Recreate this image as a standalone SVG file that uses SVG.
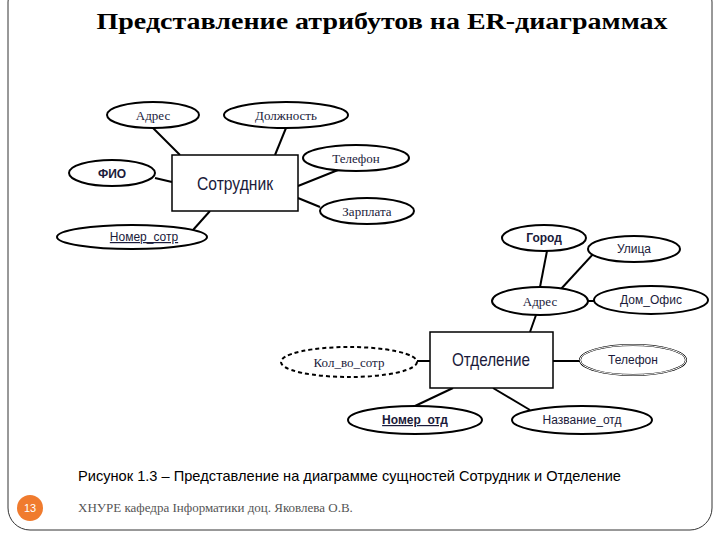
<svg xmlns="http://www.w3.org/2000/svg" width="720" height="540" viewBox="0 0 720 540">
<style>
.e{fill:#fff;stroke:#000;stroke-width:2}
.s{font-family:"Liberation Serif",serif;font-size:13px;fill:#1a1a3a;text-anchor:middle}
.n{font-family:"Liberation Sans",sans-serif;font-size:12px;fill:#1a1a3a;text-anchor:middle}
.c line{stroke:#000;stroke-width:2}
</style>
<rect x="0" y="0" width="720" height="540" fill="#fff"/>
<rect x="8" y="-20" width="704" height="550" rx="22" fill="none" stroke="#333" stroke-width="1"/>
<text x="382" y="29" font-family="Liberation Serif,serif" font-size="24" font-weight="bold" text-anchor="middle" fill="#000" textLength="571" lengthAdjust="spacingAndGlyphs">Представление атрибутов на ER-диаграммах</text>
<g class="c" id="connectors">
<line x1="153" y1="128" x2="180" y2="155"/><line x1="286" y1="128" x2="275" y2="155"/>
<line x1="155" y1="178" x2="172" y2="182"/><line x1="338" y1="170" x2="298" y2="186"/>
<line x1="320" y1="207" x2="298" y2="198"/><line x1="193" y1="230" x2="210" y2="211"/>
<line x1="547" y1="251" x2="540" y2="287"/><line x1="595" y1="252" x2="561" y2="289"/>
<line x1="588" y1="301" x2="594" y2="301"/><line x1="536" y1="315" x2="530" y2="332"/>
<line x1="417" y1="361" x2="430" y2="361"/><line x1="553" y1="361" x2="580" y2="361"/>
<line x1="453" y1="388" x2="415" y2="406"/><line x1="493" y1="388" x2="530" y2="410"/>
</g>
<g id="emp"><rect x="172" y="155" width="126" height="56" fill="#fff" stroke="#000" stroke-width="1.5"/><text x="235" y="190" font-family="Liberation Sans,sans-serif" font-size="19" text-anchor="middle" fill="#1a1a3a" textLength="76" lengthAdjust="spacingAndGlyphs">Сотрудник</text></g>
<g id="a1"><ellipse class="e" cx="153" cy="115" rx="46" ry="13"/><text class="s" x="153" y="120">Адрес</text></g>
<g id="a2"><ellipse class="e" cx="286" cy="115" rx="62" ry="13"/><text class="s" x="286" y="120">Должность</text></g>
<g id="a3"><ellipse class="e" cx="112" cy="173" rx="43" ry="13"/><text class="n" x="112" y="178" font-weight="bold">ФИО</text></g>
<g id="a4"><ellipse class="e" cx="356" cy="158" rx="53" ry="13"/><text class="s" x="356" y="163">Телефон</text></g>
<g id="a5"><ellipse class="e" cx="367" cy="211" rx="47" ry="13"/><text class="s" x="367" y="216">Зарплата</text></g>
<g id="a6"><ellipse class="e" cx="132" cy="237" rx="75" ry="12"/><text class="n" x="144" y="241" text-decoration="underline">Номер_сотр</text></g>
<g id="dept"><rect x="430" y="332" width="123" height="56" fill="#fff" stroke="#000" stroke-width="1.5"/><text x="491" y="366" font-family="Liberation Sans,sans-serif" font-size="19" text-anchor="middle" fill="#1a1a3a" textLength="78" lengthAdjust="spacingAndGlyphs">Отделение</text></g>
<g id="b1"><ellipse class="e" cx="544" cy="238" rx="42" ry="13"/><text class="n" x="544" y="242" font-weight="bold">Город</text></g>
<g id="b2"><ellipse class="e" cx="634" cy="249" rx="46" ry="13"/><text class="n" x="634" y="253">Улица</text></g>
<g id="b3"><ellipse class="e" cx="540" cy="301" rx="48" ry="14"/><text class="s" x="540" y="306">Адрес</text></g>
<g id="b4"><ellipse class="e" cx="651" cy="300" rx="57" ry="14"/><text class="n" x="651" y="304">Дом_Офис</text></g>
<g id="b5"><ellipse class="e" cx="349" cy="362" rx="68" ry="15" stroke-dasharray="4 3"/><text class="s" x="349" y="367">Кол_во_сотр</text></g>
<g id="b6"><ellipse class="e" cx="633" cy="360" rx="53" ry="15" stroke-width="4"/><ellipse cx="633" cy="360" rx="53" ry="15" fill="none" stroke="#fff" stroke-width="1"/><text class="n" x="633" y="364">Телефон</text></g>
<g id="b7"><ellipse class="e" cx="415" cy="420" rx="67" ry="14"/><text class="n" x="415" y="424" font-weight="bold" text-decoration="underline">Номер_отд</text></g>
<g id="b8"><ellipse class="e" cx="582" cy="420" rx="70" ry="14"/><text class="n" x="582" y="424">Название_отд</text></g>
<text x="78" y="481" font-family="Liberation Sans,sans-serif" font-size="15" fill="#000" textLength="543" lengthAdjust="spacingAndGlyphs">Рисунок 1.3 – Представление на диаграмме сущностей Сотрудник и Отделение</text>
<text x="78" y="512" font-family="Liberation Serif,serif" font-size="13" fill="#555">ХНУРЕ кафедра Інформатики доц. Яковлева О.В.</text>
<circle cx="30" cy="508" r="13" fill="#f07b2e"/>
<text x="30" y="512" font-family="Liberation Sans,sans-serif" font-size="11" fill="#fff" text-anchor="middle">13</text>
</svg>
